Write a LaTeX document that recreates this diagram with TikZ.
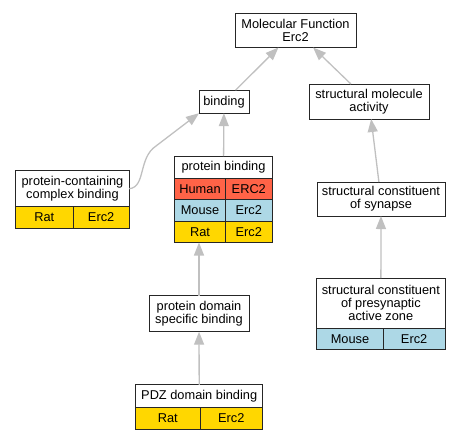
\documentclass[tikz,border=0pt]{standalone}
\usepackage{fontspec}
\newfontfamily\goterm{Liberation Sans}
\usetikzlibrary{arrows.meta,positioning}
\definecolor{boxline}{HTML}{262626}
\definecolor{edgegray}{HTML}{C0C0C0}
\definecolor{humanred}{HTML}{FF6347}
\definecolor{mouseblue}{HTML}{ADD8E6}
\definecolor{ratgold}{HTML}{FFD700}
\tikzset{
  term/.style={draw=boxline, line width=1pt, fill=white, align=center, inner sep=0pt, outer sep=0pt,
    font=\goterm\fontsize{12.8}{13}\selectfont},
  cell/.style={term, minimum height=21.4pt},
  isa/.style={draw=edgegray, line width=1.3pt, -{Triangle[length=13pt,width=10pt,fill=edgegray]}}
}
\begin{document}
\begin{tikzpicture}[x=1pt,y=-1pt]
\useasboundingbox (0,0) rectangle (464,440);
\node[term, minimum width=121pt, minimum height=34pt] (mf) at (295.5,30.5) {Molecular Function\\Erc2};
\node[term, minimum width=50pt, minimum height=23pt] (binding) at (224,101.7) {binding};
\node[term, minimum width=120pt, minimum height=35pt] (sma) at (369,101.5) {structural molecule\\activity};
\node[term, minimum width=128pt, minimum height=34pt] (scs) at (381,199) {structural constituent\\of synapse};

\node[term, minimum width=113.6pt, minimum height=36pt] (pcc) at (72.5,188.7) {protein-containing\\complex binding};
\node[cell, fill=ratgold, minimum width=57.3pt, anchor=north west] (pccrat) at (pcc.south west) {Rat};
\node[cell, fill=ratgold, minimum width=56.3pt, anchor=west] (pccerc) at (pccrat.east) {Erc2};

\node[term, minimum width=97.6pt, minimum height=22.3pt] (pb) at (223.5,167.2) {protein binding};
\node[cell, fill=humanred, minimum width=50.6pt, anchor=north west] (pbhuman) at (pb.south west) {Human};
\node[cell, fill=humanred, minimum width=47pt, anchor=west] (pbhumanerc) at (pbhuman.east) {ERC2};
\node[cell, fill=mouseblue, minimum width=50.6pt, anchor=north west] (pbmouse) at (pbhuman.south west) {Mouse};
\node[cell, fill=mouseblue, minimum width=47pt, anchor=west] (pbmouseerc) at (pbmouse.east) {Erc2};
\node[cell, fill=ratgold, minimum width=50.6pt, anchor=north west] (pbrat) at (pbmouse.south west) {Rat};
\node[cell, fill=ratgold, minimum width=47pt, anchor=west] (pbraterc) at (pbrat.east) {Erc2};

\node[term, minimum width=100pt, minimum height=36pt] (pdsb) at (199,313.7) {protein domain\\specific binding};

\node[term, minimum width=127pt, minimum height=22.7pt] (pdz) at (199.2,396.3) {PDZ domain binding};
\node[cell, fill=ratgold, minimum width=64.3pt, anchor=north west] (pdzrat) at (pdz.south west) {Rat};
\node[cell, fill=ratgold, minimum width=62.7pt, anchor=west] (pdzerc) at (pdzrat.east) {Erc2};

\node[term, minimum width=128.3pt, minimum height=50pt] (scpaz) at (380.85,303) {structural constituent\\of presynaptic\\active zone};
\node[cell, fill=mouseblue, minimum width=66.6pt, anchor=north west] (scpazmouse) at (scpaz.south west) {Mouse};
\node[cell, fill=mouseblue, minimum width=61.7pt, anchor=west] (scpazerc) at (scpazmouse.east) {Erc2};

\draw[isa] (binding) -- (mf);
\draw[isa] (sma) -- (mf);
\draw[isa] (pb) -- (binding);
\draw[isa] (pcc.east) .. controls (146,187) and (138,158) .. (156,146) -- (binding.south west);
\draw[isa] (scs) -- (sma);
\draw[isa] (scpaz) -- (scs);
\draw[isa] (pdsb.north) -- (pdsb.north |- pbrat.south);
\draw[isa] (pdz) -- (pdsb);
\end{tikzpicture}
\end{document}
